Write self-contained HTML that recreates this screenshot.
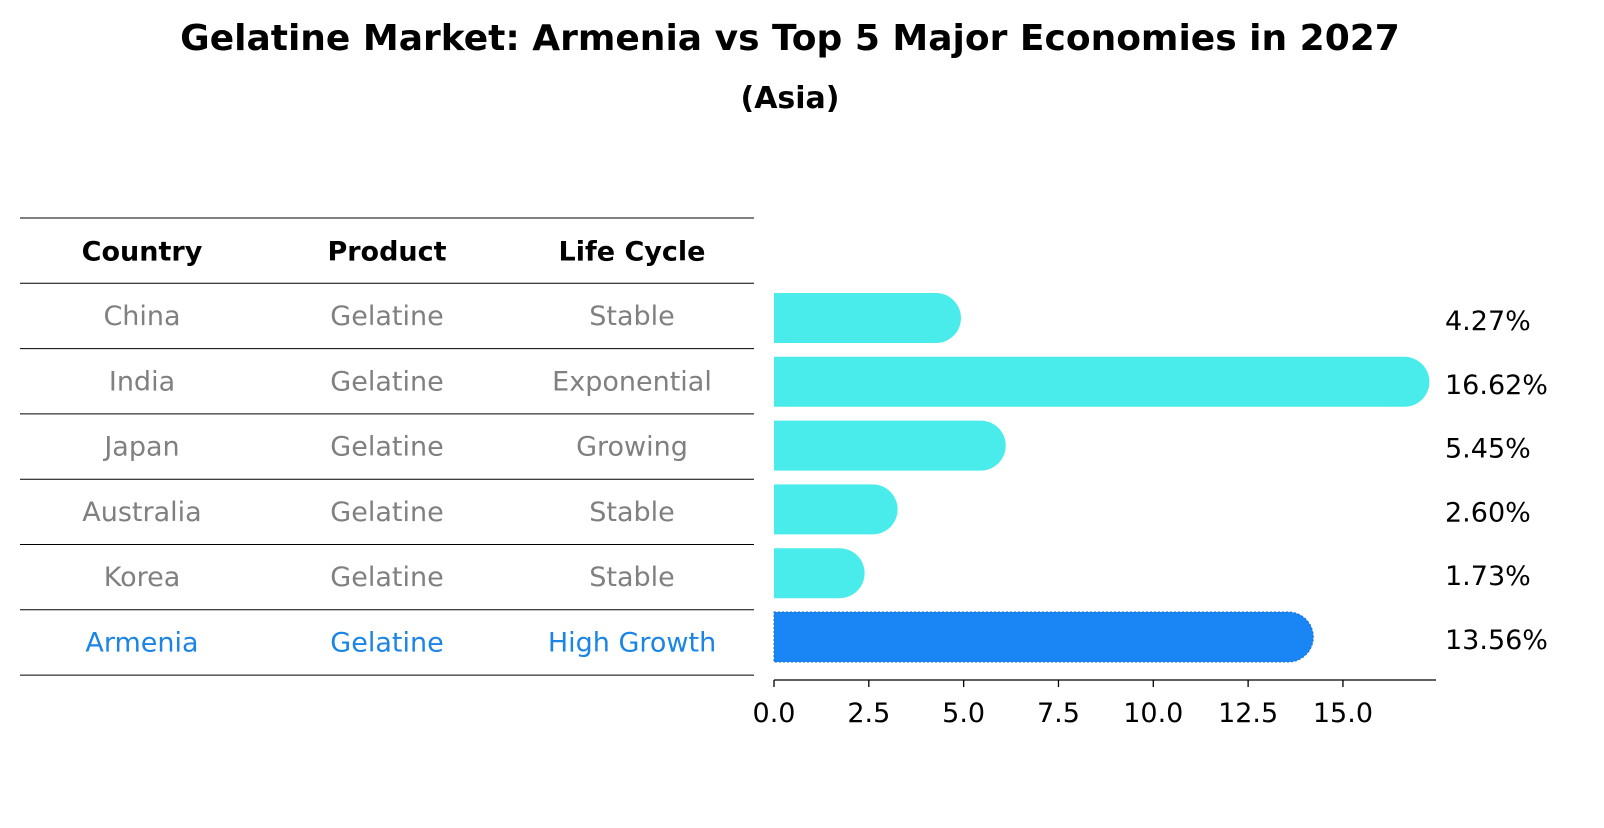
<!DOCTYPE html>
<html><head><meta charset="utf-8"><style>
body{margin:0;background:#fff;font-family:"Liberation Sans","DejaVu Sans",sans-serif;}
svg text{font-family:"DejaVu Sans","Liberation Sans",sans-serif;}
</style></head><body>
<svg id="c" width="1604" height="823" xmlns="http://www.w3.org/2000/svg">
<text x="790" y="50" text-anchor="middle" font-size="36" font-weight="bold">Gelatine Market: Armenia vs Top 5 Major Economies in 2027</text>
<text x="790" y="108" text-anchor="middle" font-size="30" font-weight="bold">(Asia)</text>
<g id="tbl"></g>
<g id="bars"></g>
</svg>
<script>
const countries=["China","India","Japan","Australia","Korea","Armenia"];
const products=["Gelatine","Gelatine","Gelatine","Gelatine","Gelatine","Gelatine"];
const lifeCycles=["Stable","Exponential","Growing","Stable","Stable","High Growth"];
const values=[4.27,16.62,5.45,2.60,1.73,13.56];
const ticks=[0,2.5,5,7.5,10,12.5,15];
const NS="http://www.w3.org/2000/svg";
function mk(tag,attrs,parent,txt){const e=document.createElementNS(NS,tag);for(const k in attrs)e.setAttribute(k,attrs[k]);if(txt!==undefined)e.textContent=txt;parent.appendChild(e);return e;}
const tbl=document.getElementById('tbl'),bars=document.getElementById('bars');
const rowTop=218,rowH=65.3,colX=[142,387,632];
const x0=774,pxPer=37.93,barH=50;
const xs=v=>x0+v*pxPer;
const rowY=i=>rowTop+rowH*(i+1)+rowH/2;
for(let i=0;i<=countries.length+1;i++){
  const y=rowTop+rowH*i;
  const l=mk('line',{x1:20,x2:754,y1:y,y2:y,stroke:'#000','stroke-width':1},tbl);
  
  
}
["Country","Product","Life Cycle"].forEach((h,j)=>{
  const t=mk('text',{x:colX[j],y:rowTop+rowH/2+10,'text-anchor':'middle','font-size':27,'font-weight':'bold'},tbl,h);
  
  
});
countries.forEach((c,i)=>{
  const col=i===countries.length-1?'#1a85e6':'#808080';
  [c,products[i],lifeCycles[i]].forEach((v,j)=>{
    const t=mk('text',{x:colX[j],y:rowY(i)+9,'text-anchor':'middle','font-size':27,fill:col},tbl,v);
    
    
  });
});
values.forEach((v,i)=>{
  const cy=293+25+i*63.8;
  const last=i===values.length-1;
  const col=last?'#1a85f5':'#4aeceb';
  const w=xs(v)-x0, r=barH/2;
  const d=`M${x0},${cy-r} H${x0+w} A${r},${r} 0 0 1 ${x0+w},${cy+r} H${x0} Z`;
  const p=mk('path',{d:d,fill:col},bars);
  if(last){p.setAttribute('stroke','#1a6fd0');p.setAttribute('stroke-dasharray','2,2');p.setAttribute('stroke-width','1');}
  
  
  const t=mk('text',{x:1445,y:cy+12,'font-size':27},bars,v.toFixed(2)+'%');
  
  
});
const ax=mk('line',{x1:x0,x2:1436,y1:680,y2:680,stroke:'#000','stroke-width':1.3},bars);


ticks.forEach(tv=>{
  const x=xs(tv);
  const l=mk('line',{x1:x,x2:x,y1:680,y2:687,stroke:'#000','stroke-width':1.3},bars);
  
  
  const t=mk('text',{x:x,y:722,'text-anchor':'middle','font-size':27},bars,tv.toFixed(1));
  
  
});
</script>
</body></html>
